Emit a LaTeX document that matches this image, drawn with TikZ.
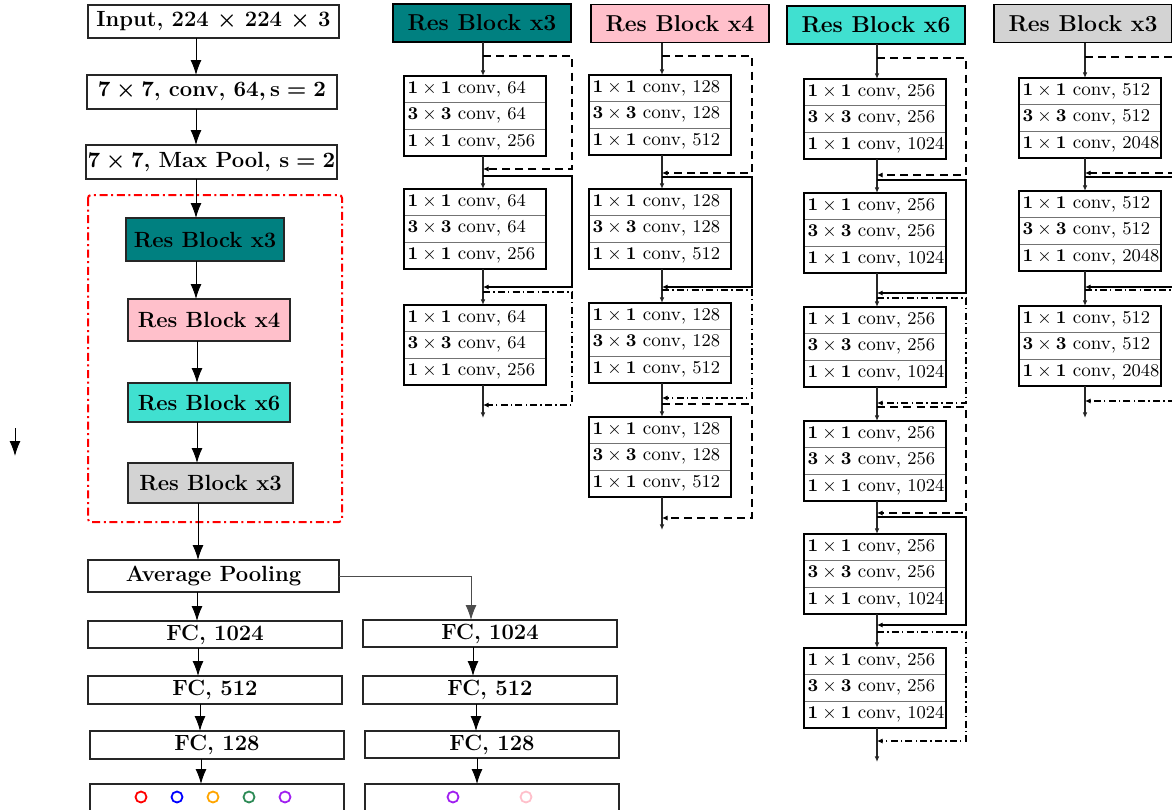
\documentclass[tikz,border=0pt]{standalone}
\usetikzlibrary{arrows.meta,fit}
\definecolor{cteal}{HTML}{008080}
\definecolor{cpink}{HTML}{FFC0CB}
\definecolor{cturq}{HTML}{40E0D0}
\definecolor{cgray}{HTML}{D3D3D3}
\definecolor{corange}{HTML}{FFA500}
\definecolor{cgreen}{HTML}{2E8B57}
\definecolor{cpurple}{HTML}{A020F0}
\tikzset{
 lbox/.style={draw=black!85, line width=0.75pt, inner sep=0pt, outer sep=0pt, font=\fontsize{11}{13}\selectfont\bfseries\boldmath},
 hdr/.style={draw=black, line width=0.9pt, inner sep=0pt, outer sep=0pt, minimum width=89pt, minimum height=19pt, font=\fontsize{11.5}{13}\selectfont\bfseries},
 row/.style={draw=black!55, line width=0.35pt, inner xsep=0.8pt, inner ysep=0pt, outer sep=0pt, minimum width=71pt, minimum height=13.33pt, font=\fontsize{9.5}{11}\selectfont},
 blk/.style={draw=black, line width=1.1pt, inner sep=0pt, outer sep=0pt},
 bigarr/.style={-{Latex[length=7.5pt,width=5.5pt]}, line width=0.5pt},
 smarr/.style={-{Latex[length=2.8pt,width=2.3pt]}, line width=0.55pt, draw=black!85},
 skipdash/.style={line width=0.7pt, dash pattern=on 4pt off 2.6pt},
 skipsolid/.style={line width=0.9pt},
 skipdd/.style={line width=0.7pt, dash pattern=on 3.5pt off 1.6pt on 0.7pt off 1.6pt},
 skiparr/.style={-{Latex[length=2.8pt,width=2.6pt]}},
 ring/.style={circle, draw, line width=0.9pt, minimum size=5.5pt, inner sep=0pt},
}
\newcommand\cvrow[2]{\makebox[69.4pt][l]{\hspace*{1pt}$\mathbf{#1\times #1}$ conv, $#2$}}
\newcommand\rblk[6]{%
 \node[row, anchor=north west] (#1a) at (#2,#3) {#4};
 \node[row, anchor=north] (#1b) at (#1a.south) {#5};
 \node[row, anchor=north] (#1c) at (#1b.south) {#6};
 \node[blk, fit=(#1a)(#1c)] (#1) {};}
\newcommand\skp[6]{%
 \coordinate (#6s) at (#2,#3);
 \coordinate (#6e) at (#2,#4);
 \draw[#1, skiparr] (#6s) -| (#5,#4) -- (#6e);}
\begin{document}
\begin{tikzpicture}[x=0.5pt,y=-0.5pt]
\useasboundingbox (0,0) rectangle (1172,809);

% ---------- left column ----------
\node[lbox, minimum width=125.5pt, minimum height=16.5pt] (inp) at (213.5,21.5) {Input, 224 $\times$ 224 $\times$ 3};
\node[lbox, minimum width=125pt, minimum height=17pt] (conv) at (212,92) {$7\times7$, conv, $64, \mathbf{s}=2$};
\node[lbox, minimum width=125.5pt, minimum height=17pt] (pool) at (211.5,162) {$7\times7$, Max Pool, $\mathbf{s}=2$};
\draw[red, line width=1pt, dash pattern=on 4pt off 1.8pt on 1pt off 1.8pt, rounded corners=1.5pt] (88,195) rectangle (342,522);
\node[lbox, fill=cteal, minimum width=79pt, minimum height=21.5pt] (r1) at (205,239.5) {Res Block x3};
\node[lbox, fill=cpink, minimum width=81pt, minimum height=21pt] (r2) at (209,320) {Res Block x4};
\node[lbox, fill=cturq, minimum width=81pt, minimum height=19.5pt] (r3) at (209,402.5) {Res Block x6};
\node[lbox, fill=cgray, minimum width=82.5pt, minimum height=20pt] (r4) at (210.5,483) {Res Block x3};
\node[lbox, minimum width=125.5pt, minimum height=16pt] (avg) at (213.5,576) {Average Pooling};
\node[lbox, minimum width=127pt, minimum height=13.5pt] (f1) at (215,634.5) {FC, 1024};
\node[lbox, minimum width=127pt, minimum height=14pt] (f2) at (215,690) {FC, 512};
\node[lbox, minimum width=127pt, minimum height=14pt] (f3) at (217,745) {FC, 128};
\node[lbox, minimum width=127pt, minimum height=23pt] (o1) at (217,807) {};
\node[lbox, minimum width=127pt, minimum height=13.5pt] (g1) at (490,633.5) {FC, 1024};
\node[lbox, minimum width=127pt, minimum height=14pt] (g2) at (490,690) {FC, 512};
\node[lbox, minimum width=127pt, minimum height=13.5pt] (g3) at (492,744.5) {FC, 128};
\node[lbox, minimum width=127pt, minimum height=23pt] (o2) at (492,807) {};

\node[ring, draw=red] (c1) at (141,797) {};
\node[ring, draw=blue] (c2) at (177,797) {};
\node[ring, draw=corange] (c3) at (213,797) {};
\node[ring, draw=cgreen] (c4) at (249,797) {};
\node[ring, draw=cpurple] (c5) at (285,797) {};
\node[ring, draw=cpurple] (c6) at (453,797) {};
\node[ring, draw=cpink] (c7) at (526,797) {};

\draw[bigarr] (inp.south -| 196,0) -- (conv.north -| 196,0);
\draw[bigarr] (conv.south -| 196,0) -- (pool.north -| 196,0);
\draw[bigarr] (pool.south -| 196,0) -- (r1.north -| 196,0);
\draw[bigarr] (r1.south -| 196,0) -- (r2.north -| 196,0);
\draw[bigarr] (r2.south -| 197,0) -- (r3.north -| 197,0);
\draw[bigarr] (r3.south -| 197,0) -- (r4.north -| 197,0);
\draw[bigarr] (r4.south -| 198,0) -- (avg.north -| 198,0);
\draw[bigarr] (avg.south -| 197,0) -- (f1.north -| 197,0);
\draw[bigarr] (f1.south -| 198,0) -- (f2.north -| 198,0);
\draw[bigarr] (f2.south -| 200,0) -- (f3.north -| 200,0);
\draw[bigarr] (f3.south -| 201,0) -- (o1.north -| 201,0);
\draw[bigarr, draw=black!70] (avg.east) -| (g1.north -| 471,0);
\draw[bigarr] (g1.south -| 473,0) -- (g2.north -| 473,0);
\draw[bigarr] (g2.south -| 476,0) -- (g3.north -| 476,0);
\draw[bigarr] (g3.south -| 477,0) -- (o2.north -| 477,0);

\coordinate (st1) at (15,428);
\coordinate (st2) at (15,456);
\draw[bigarr] (st1) -- (st2);

% ---------- column 1 ----------
\node[hdr, fill=cteal] (h1) at (482,23) {Res Block x3};
\rblk{a1}{404}{76}{\cvrow{1}{64}}{\cvrow{3}{64}}{\cvrow{1}{256}}
\rblk{a2}{404}{189}{\cvrow{1}{64}}{\cvrow{3}{64}}{\cvrow{1}{256}}
\rblk{a3}{404}{305}{\cvrow{1}{64}}{\cvrow{3}{64}}{\cvrow{1}{256}}
\coordinate (a4) at (483,418);
\draw[smarr] (h1.south -| 483,0) -- (a1.north -| 483,0);
\draw[smarr] (a1.south -| 483,0) -- (a2.north -| 483,0);
\draw[smarr] (a2.south -| 483,0) -- (a3.north -| 483,0);
\draw[smarr] (a3.south -| 483,0) -- (a4);
\skp{skipdash}{483}{56}{169}{572}{ka1}
\skp{skipsolid}{483}{176}{287}{572}{ka2}
\skp{skipdd}{483}{292}{405}{572}{ka3}

% ---------- column 2 ----------
\node[hdr, fill=cpink] (h2) at (680,23.5) {Res Block x4};
\rblk{b1}{589}{75}{\cvrow{1}{128}}{\cvrow{3}{128}}{\cvrow{1}{512}}
\rblk{b2}{589}{189}{\cvrow{1}{128}}{\cvrow{3}{128}}{\cvrow{1}{512}}
\rblk{b3}{589}{303}{\cvrow{1}{128}}{\cvrow{3}{128}}{\cvrow{1}{512}}
\rblk{b4}{589}{417}{\cvrow{1}{128}}{\cvrow{3}{128}}{\cvrow{1}{512}}
\coordinate (b5) at (662,530);
\draw[smarr] (h2.south -| 662,0) -- (b1.north -| 662,0);
\draw[smarr] (b1.south -| 662,0) -- (b2.north -| 662,0);
\draw[smarr] (b2.south -| 662,0) -- (b3.north -| 662,0);
\draw[smarr] (b3.south -| 662,0) -- (b4.north -| 662,0);
\draw[smarr] (b4.south -| 662,0) -- (b5);
\skp{skipdash}{662}{56}{173}{752}{kb1}
\skp{skipsolid}{662}{177}{287}{752}{kb2}
\skp{skipdd}{662}{290}{398}{752}{kb3}
\skp{skipdash}{662}{404}{518}{752}{kb4}

% ---------- column 3 ----------
\node[hdr, fill=cturq] (h3) at (876,25) {Res Block x6};
\rblk{d1}{804}{79}{\cvrow{1}{256}}{\cvrow{3}{256}}{\cvrow{1}{1024}}
\rblk{d2}{804}{193}{\cvrow{1}{256}}{\cvrow{3}{256}}{\cvrow{1}{1024}}
\rblk{d3}{804}{307}{\cvrow{1}{256}}{\cvrow{3}{256}}{\cvrow{1}{1024}}
\rblk{d4}{804}{421}{\cvrow{1}{256}}{\cvrow{3}{256}}{\cvrow{1}{1024}}
\rblk{d5}{804}{534}{\cvrow{1}{256}}{\cvrow{3}{256}}{\cvrow{1}{1024}}
\rblk{d6}{804}{648}{\cvrow{1}{256}}{\cvrow{3}{256}}{\cvrow{1}{1024}}
\coordinate (d7) at (877,762);
\draw[smarr] (h3.south -| 877,0) -- (d1.north -| 877,0);
\draw[smarr] (d1.south -| 877,0) -- (d2.north -| 877,0);
\draw[smarr] (d2.south -| 877,0) -- (d3.north -| 877,0);
\draw[smarr] (d3.south -| 877,0) -- (d4.north -| 877,0);
\draw[smarr] (d4.south -| 877,0) -- (d5.north -| 877,0);
\draw[smarr] (d5.south -| 877,0) -- (d6.north -| 877,0);
\draw[smarr] (d6.south -| 877,0) -- (d7);
\skp{skipdash}{877}{58}{175}{966}{kd1}
\skp{skipsolid}{877}{180}{293}{966}{kd2}
\skp{skipdd}{877}{298}{403}{966}{kd3}
\skp{skipdash}{877}{407}{513}{966}{kd4}
\skp{skipsolid}{877}{517}{625}{966}{kd5}
\skp{skipdd}{877}{632}{741}{966}{kd6}

% ---------- column 4 ----------
\node[hdr, fill=cgray] (h4) at (1083,23.5) {Res Block x3};
\rblk{e1}{1019}{78}{\cvrow{1}{512}}{\cvrow{3}{512}}{\cvrow{1}{2048}}
\rblk{e2}{1019}{191}{\cvrow{1}{512}}{\cvrow{3}{512}}{\cvrow{1}{2048}}
\rblk{e3}{1019}{306}{\cvrow{1}{512}}{\cvrow{3}{512}}{\cvrow{1}{2048}}
\coordinate (e4) at (1085,418);
\draw[smarr] (h4.south -| 1085,0) -- (e1.north -| 1085,0);
\draw[smarr] (e1.south -| 1085,0) -- (e2.north -| 1085,0);
\draw[smarr] (e2.south -| 1085,0) -- (e3.north -| 1085,0);
\draw[smarr] (e3.south -| 1085,0) -- (e4);
\skp{skipdash}{1085}{57}{173}{1178}{ke1}
\skp{skipsolid}{1085}{177}{287}{1178}{ke2}
\skp{skipdd}{1085}{290}{401}{1178}{ke3}
\end{tikzpicture}
\end{document}
